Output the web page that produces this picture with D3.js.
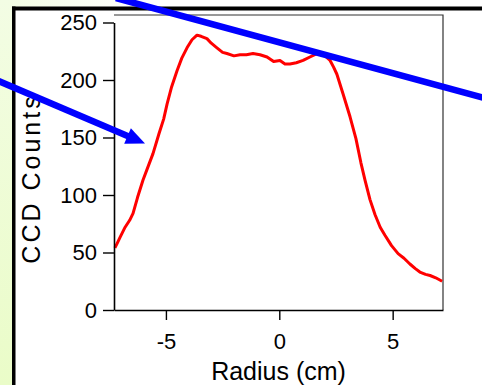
<!DOCTYPE html>
<html><head><meta charset="utf-8">
<script src="https://cdn.jsdelivr.net/npm/d3@7"></script>
<style>html,body{margin:0;padding:0;background:#fff;}svg{display:block;}</style>
</head><body>
<script>
// Data
const radius = [-7.25,-7.15,-7.03,-6.8,-6.6,-6.45,-6.25,-6.01,-5.8,-5.57,-5.31,-5.1,-4.95,-4.75,-4.51,-4.3,-4.07,-3.85,-3.63,-3.45,-3.19,-3.0,-2.75,-2.5,-2.31,-2.0,-1.73,-1.45,-1.16,-0.85,-0.54,-0.25,0.03,0.25,0.47,0.75,1.05,1.35,1.66,1.85,2.02,2.24,2.4,2.54,2.81,3.12,3.38,3.6,3.78,4.0,4.22,4.45,4.66,4.95,5.24,5.5,5.76,6.0,6.2,6.45,6.65,6.9,7.18];
const counts = [54,58,63,72,78,84,98,113,124,136,153,166,179,194,208,219,228,235,239,238,236,232,228,224,223,221,222,222,223,222,220,216,217,214,214,215,217,220,223,222,221,217,211,205,188,168,149,128,113,96,83,72,65,56,49,45,40,36,33,31,30,28,25];
const xTicks = [-5,0,5];
const yTicks = [0,50,100,150,200,250];
const xTitle = "Radius (cm)";
const yTitle = "CCD Counts";

const W = 482, H = 385;
const svg = d3.select("body").append("svg").attr("width", W).attr("height", H);
const defs = svg.append("defs");
const gl = defs.append("linearGradient").attr("id","lg").attr("x1","0").attr("y1","0").attr("x2","0").attr("y2","1");
gl.append("stop").attr("offset","0").attr("stop-color","#f3fde4");
gl.append("stop").attr("offset","1").attr("stop-color","#eafcc8");
const gt = defs.append("linearGradient").attr("id","tg").attr("x1","0").attr("y1","0").attr("x2","1").attr("y2","0");
gt.append("stop").attr("offset","0").attr("stop-color","#f2fde2");
gt.append("stop").attr("offset","0.3").attr("stop-color","#ffffff");

svg.append("rect").attr("x",0).attr("y",0).attr("width",W).attr("height",8).attr("fill","url(#tg)");
svg.append("rect").attr("x",0).attr("y",0).attr("width",13).attr("height",H).attr("fill","url(#lg)");
svg.append("rect").attr("x",12).attr("y",6.5).attr("width",W).attr("height",4).attr("fill","#000");
svg.append("rect").attr("x",12).attr("y",6.5).attr("width",3.5).attr("height",H).attr("fill","#000");

const L = 114, R = 443, T = 15, B = 310;
const x = d3.scaleLinear().domain([-7.29, 7.22]).range([L, R]);
const y = d3.scaleLinear().domain([0, 250]).range([B, 22.5]);
const font = "'Liberation Sans', Arial, sans-serif";

// frame top/right
svg.append("path").attr("d",`M${L},${T}H${R}V${B}`).attr("fill","none").attr("stroke","#333").attr("stroke-width",1.2);

// data line
svg.append("path").datum(radius.map((r,i)=>[r,counts[i]]))
  .attr("d", d3.line().x(d=>x(d[0])).y(d=>y(d[1])))
  .attr("fill","none").attr("stroke","#ff0000").attr("stroke-width",3).attr("stroke-linejoin","round");

const xAxis = svg.append("g").attr("transform",`translate(0,${B})`)
  .call(d3.axisBottom(x).tickValues(xTicks).tickSize(10).tickSizeOuter(0).tickPadding(14).tickFormat(d3.format("d")));
const yAxis = svg.append("g").attr("transform",`translate(${L},0)`)
  .call(d3.axisLeft(y).tickValues(yTicks).tickSize(11).tickSizeOuter(0).tickPadding(6).tickFormat(d3.format("d")));
[xAxis,yAxis].forEach(g=>{
  g.select(".domain").attr("stroke","#000").attr("stroke-width",1.6);
  g.selectAll(".tick line").attr("stroke","#000").attr("stroke-width",1.4);
  g.selectAll(".tick text").attr("fill","#000").style("font-family",font).style("font-size","22px");
});
xAxis.selectAll(".tick text").attr("dy","0.68em");
xAxis.selectAll(".tick text").text(d=> d<0 ? "-"+Math.abs(d) : d);

svg.append("text").attr("x",278.5).attr("y",380).attr("text-anchor","middle")
  .style("font-family",font).style("font-size","25px").text(xTitle);
svg.append("text").attr("transform","translate(40,178.5) rotate(-90)").attr("text-anchor","middle")
  .style("font-family",font).style("font-size","25px").style("letter-spacing","3px").text(yTitle);

// blue annotation lines
const blue = "#0000ff";
svg.append("line").attr("x1",116).attr("y1",-2).attr("x2",490).attr("y2",99.5).attr("stroke",blue).attr("stroke-width",6.5);
const tip = [145,143.5], start = [-5, 79.5];
const ang = Math.atan2(tip[1]-start[1], tip[0]-start[0]);
const hl = 19, hw = 8.5;
const bx = tip[0]-hl*Math.cos(ang), by = tip[1]-hl*Math.sin(ang);
svg.append("line").attr("x1",start[0]).attr("y1",start[1]).attr("x2",bx+2*Math.cos(ang)).attr("y2",by+2*Math.sin(ang)).attr("stroke",blue).attr("stroke-width",6.5);
svg.append("path").attr("d",`M${tip[0]},${tip[1]}L${bx+hw*Math.sin(ang)},${by-hw*Math.cos(ang)}L${bx-hw*Math.sin(ang)},${by+hw*Math.cos(ang)}Z`).attr("fill",blue);
</script>
</body></html>
